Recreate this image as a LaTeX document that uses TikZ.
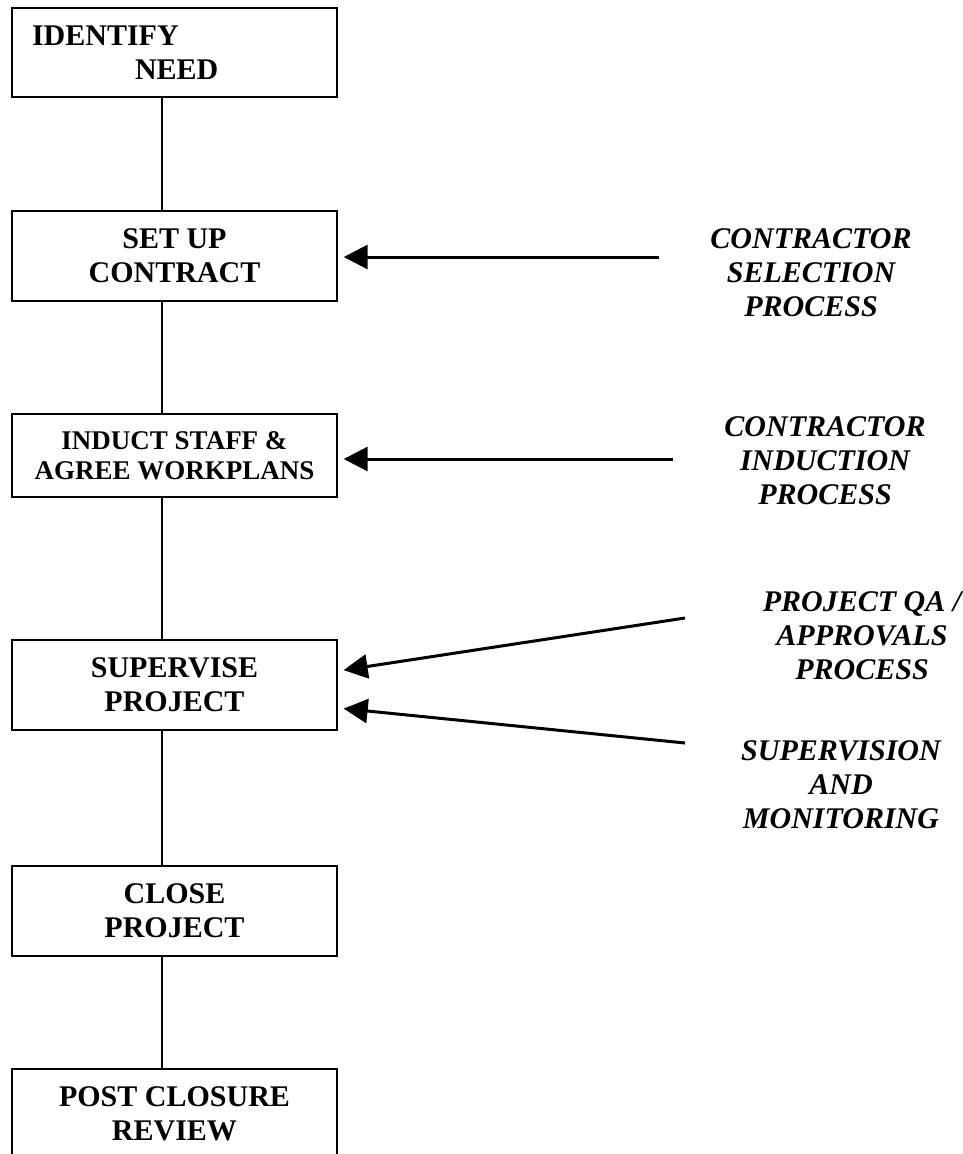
\documentclass[tikz,border=0pt]{standalone}
\usepackage{fontspec}
\setmainfont{Liberation Serif}
\usetikzlibrary{arrows.meta}

\begin{document}
\begin{tikzpicture}[x=1pt, y=-1pt,
    stepbox/.style={draw, line width=1.4pt, minimum width=325pt, minimum height=90pt, inner sep=0pt, align=center, font=\bfseries\fontsize{30}{34}\selectfont},
    sidenote/.style={align=center, font=\bfseries\itshape\fontsize{30}{34}\selectfont},
    feed/.style={line width=3pt, -{Triangle[length=24pt, width=24pt]}, shorten >=6pt},
    link/.style={line width=1.4pt}]

    \useasboundingbox (0,0) rectangle (962,1154);

    % Process steps
    \node[stepbox, minimum height=89pt, text width=285pt, align=left] (need) at (174.5,52.5) {IDENTIFY\\\hspace*{103pt}NEED};
    \node[stepbox] (contract) at (174.5,256) {SET UP\\CONTRACT};
    \node[stepbox, minimum height=83pt, font=\bfseries\fontsize{27}{30}\selectfont] (induct) at (174.5,455.5) {INDUCT STAFF \&\\AGREE WORKPLANS};
    \node[stepbox] (supervise) at (174.5,685) {SUPERVISE\\PROJECT};
    \node[stepbox] (close) at (174.5,911) {CLOSE\\PROJECT};
    \node[stepbox] (review) at (174.5,1114) {POST CLOSURE\\REVIEW};

    % Links between steps
    \draw[link] ([xshift=-12.5pt]need.south) -- ([xshift=-12.5pt]contract.north);
    \draw[link] ([xshift=-12.5pt]contract.south) -- ([xshift=-12.5pt]induct.north);
    \draw[link] ([xshift=-12.5pt]induct.south) -- ([xshift=-12.5pt]supervise.north);
    \draw[link] ([xshift=-12.5pt]supervise.south) -- ([xshift=-12.5pt]close.north);
    \draw[link] ([xshift=-12.5pt]close.south) -- ([xshift=-12.5pt]review.north);

    % Feeding processes
    \node[sidenote] (selection) at (811,273) {CONTRACTOR\\SELECTION\\PROCESS};
    \node[sidenote] (induction) at (825,461) {CONTRACTOR\\INDUCTION\\PROCESS};
    \node[sidenote] (approvals) at (862,636) {PROJECT QA /\\APPROVALS\\PROCESS};
    \node[sidenote] (monitoring) at (841,785) {SUPERVISION\\AND\\MONITORING};

    \coordinate (selection tail) at (659,257);
    \coordinate (induction tail) at (673,459);
    \coordinate (approvals tail) at (685,618);
    \coordinate (monitoring tail) at (685,743);

    \draw[feed] (selection tail) -- ([yshift=-1pt]contract.east);
    \draw[feed] (induction tail) -- ([yshift=-3.5pt]induct.east);
    \draw[feed] (approvals tail) -- ([yshift=14pt]supervise.east);
    \draw[feed] (monitoring tail) -- ([yshift=-23pt]supervise.east);

\end{tikzpicture}
\end{document}
